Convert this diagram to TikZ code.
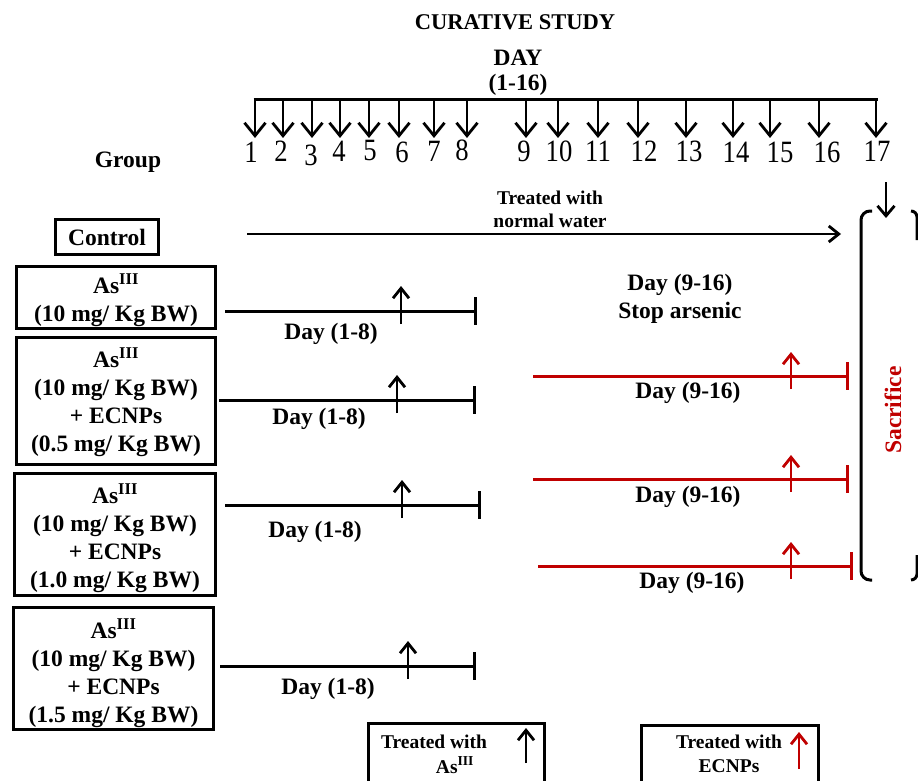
\documentclass[tikz,border=0pt]{standalone}
\usepackage{fontspec}
\setmainfont{Liberation Serif}
\newfontfamily\digitfont[FakeStretch=0.86]{Liberation Serif}
\usetikzlibrary{arrows.meta}
\definecolor{sred}{RGB}{192,0,0}
\begin{document}
\begin{tikzpicture}[x=1pt,y=-1pt,
  lbl/.style={font=\fontsize{23.5}{28}\selectfont\bfseries, align=center, inner sep=0pt},
  sml/.style={font=\fontsize{19.5}{23.5}\selectfont\bfseries, align=center, inner sep=0pt},
  num/.style={font=\digitfont\fontsize{31}{32}\selectfont, inner sep=0pt},
  grp/.style={draw, line width=3pt, lbl},
  tline/.style={line width=3pt},
  down/.style={line width=2.8pt, -{Straight Barb[length=13pt,width=21pt]}},
  row/.style={line width=3pt, -{Bar[width=28pt]}},
  up/.style={line width=2.8pt, -{Straight Barb[length=10pt,width=16pt]}},
  flow/.style={line width=2.8pt, -{Straight Barb[length=10pt,width=16pt]}},
]
\useasboundingbox (0,0) rectangle (918,781);
\clip (0,0) rectangle (918,781);

% headings
\node[lbl, font=\fontsize{22.5}{26}\selectfont\bfseries] (title) at (515,22) {CURATIVE STUDY};
\node[lbl] (day) at (518,58) {DAY};
\node[lbl] (span) at (518,85) {(1-16)};
\node[lbl] (group) at (128,162) {Group};

% day timeline
\coordinate (tl0) at (253.5,100);
\coordinate (tl1) at (877.5,100);
\draw[tline] (tl0) -- (tl1);
\foreach \i/\ax/\lx/\ly in {1/255/251/152, 2/283/281/151, 3/312/311/155, 4/340/339/151,
  5/369/370/151, 6/399/402/152, 7/434/434/151, 8/467/462/150, 9/526/524/151,
  10/558/559/151, 11/598/598/151, 12/638/644/151, 13/686/689/151, 14/733/736/152,
  15/770/780/152, 16/819/827/152, 17/876/877/151} {
  \coordinate (d\i) at (\ax,100);
  \coordinate (t\i) at (\ax,138);
  \draw[down] (d\i) -- (t\i);
  \node[num] (n\i) at (\lx,\ly) {\i};
}

% groups
\node[grp, minimum width=103pt, minimum height=35pt] (ctrl) at (107,237) {Control};
\node[grp, minimum width=199pt, minimum height=62pt] (g1) at (116,297.5) {};
\node[lbl] (g1t) at (116,300) {As\textsuperscript{III}\\(10 mg/ Kg BW)};
\node[grp, minimum width=199pt, minimum height=127pt] (g2) at (116,401) {};
\node[lbl] (g2t) at (116,402) {As\textsuperscript{III}\\(10 mg/ Kg BW)\\+ ECNPs\\(0.5 mg/ Kg BW)};
\node[grp, minimum width=201pt, minimum height=122pt] (g3) at (115,534.5) {};
\node[lbl] (g3t) at (115,538) {As\textsuperscript{III}\\(10 mg/ Kg BW)\\+ ECNPs\\(1.0 mg/ Kg BW)};
\node[grp, minimum width=200pt, minimum height=122pt] (g4) at (113.5,668.5) {};
\node[lbl] (g4t) at (113.5,673) {As\textsuperscript{III}\\(10 mg/ Kg BW)\\+ ECNPs\\(1.5 mg/ Kg BW)};

% control: normal water
\node[sml] (water) at (550,209.5) {Treated with\\normal water};
\coordinate (w0) at (247,234);
\coordinate (w1) at (841,234);
\draw[flow] (w0) -- (w1);

% arsenic phase, day 1-8
\foreach \k/\xs/\xe/\y/\ax/\lx/\ly in {1/225/477/311/401/331/334, 2/219/476/400/397/319/419,
  3/225/481/505/402/315/532, 4/220/476/666/408/328/689} {
  \coordinate (a\k s) at (\xs,\y);
  \coordinate (a\k e) at (\xe,\y);
  \coordinate (a\k b) at (\ax,\y+13);
  \coordinate (a\k t) at (\ax,\y-25);
  \draw[row] (a\k s) -- (a\k e);
  \draw[up] (a\k b) -- (a\k t);
  \node[lbl] (a\k l) at (\lx,\ly) {Day (1-8)};
}

% ECNP phase, day 9-16
\node[lbl] (stop) at (680,298.5) {Day (9-16)\\Stop arsenic};
\foreach \k/\xs/\xe/\y/\lx/\ly in {2/533/849/376/688/393, 3/533/849/479/688/497,
  4/538/853/566/692/583} {
  \coordinate (e\k s) at (\xs,\y);
  \coordinate (e\k e) at (\xe,\y);
  \coordinate (e\k b) at (791,\y+13);
  \coordinate (e\k t) at (791,\y-24);
  \draw[row, sred] (e\k s) -- (e\k e);
  \draw[up, sred] (e\k b) -- (e\k t);
  \node[lbl] (e\k l) at (\lx,\ly) {Day (9-16)};
}

% sacrifice bracket
\coordinate (s0) at (886,182);
\coordinate (s1) at (886,218);
\draw[line width=2.8pt, -{Straight Barb[length=10pt,width=17pt]}] (s0) -- (s1);
\draw[line width=3pt, rounded corners=9pt] (872,211) -- (861,211) -- (861,580) -- (872,580);
\draw[line width=3pt, rounded corners=6pt] (911,211) -- (917,211) -- (917,240);
\draw[line width=3pt, rounded corners=6pt] (911,580) -- (917,580) -- (917,555);
\node[lbl, text=sred, rotate=90] (sac) at (893,410) {Sacrifice};

% legend
\draw[line width=3pt] (368,723) rectangle (544,800);
\node[sml] (k1a) at (434,742) {Treated with};
\node[sml] (k1b) at (455,765) {As\textsuperscript{III}};
\coordinate (k1u) at (526,763);
\coordinate (k1v) at (526,728);
\draw[up] (k1u) -- (k1v);
\draw[line width=3pt] (641,725) rectangle (818,800);
\node[sml] (k2a) at (729,742) {Treated with};
\node[sml] (k2b) at (729,766) {ECNPs};
\coordinate (k2u) at (799,769);
\coordinate (k2v) at (799,732);
\draw[up, sred] (k2u) -- (k2v);
\end{tikzpicture}
\end{document}
